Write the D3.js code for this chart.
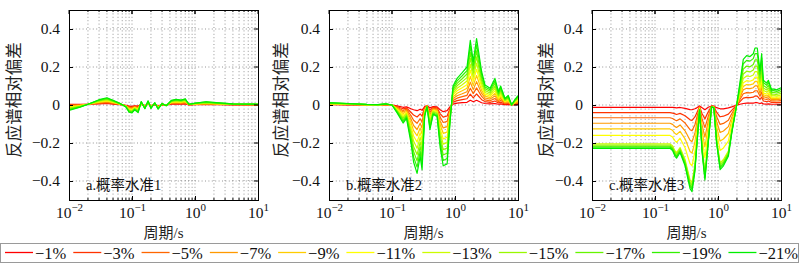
<!DOCTYPE html>
<html>
<head>
<meta charset="utf-8">
<script src="https://cdn.jsdelivr.net/npm/d3@7"></script>
<style>
  body { margin: 0; background: #fff; }
  svg { display: block; }
</style>
</head>
<body>
<div id="chart"></div>
<script>
// 凡例ラベル（超越確率）-------------------------------------------------------------
const levels = ['−1%', '−3%', '−5%', '−7%', '−9%', '−11%', '−13%', '−15%', '−17%', '−19%', '−21%'];
const yTicks = [-0.4, -0.2, 0, 0.2, 0.4];
const xMajor = [0.01, 0.1, 1, 10];

// a.概率水准1 ------------------------------------------------------------------------
const periodsA = [0.01, 0.015, 0.02, 0.03, 0.04, 0.05, 0.065, 0.08, 0.09, 0.1, 0.11, 0.125, 0.14, 0.16, 0.18,
  0.2, 0.23, 0.26, 0.3, 0.35, 0.42, 0.5, 0.6, 0.7, 0.8, 1.0, 1.5, 2.2, 4, 10];
const a1 = [.004,.004,.004,.006,.008,.005,.002,-.002,-.006,-.007,-.004,-.006,.003,-.003,.004,-.003,.002,-.004,.001,0,.005,.006,.005,.006,.001,.002,.003,.002,.001,.001];
const a3 = [.001,.002,.004,.008,.011,.007,.003,-.003,-.009,-.011,-.006,-.009,.005,-.005,.006,-.005,.003,-.006,.002,0,.007,.008,.007,.009,.001,.003,.004,.003,.002,.001];
const a5 = [-.002,.001,.004,.010,.014,.009,.003,-.004,-.012,-.014,-.008,-.013,.006,-.006,.008,-.006,.004,-.008,.002,-.001,.009,.011,.009,.011,.002,.004,.006,.004,.002,.002];
const a7 = [-.006,-.001,.004,.013,.017,.011,.004,-.004,-.016,-.018,-.010,-.016,.008,-.008,.009,-.008,.005,-.009,.003,-.001,.011,.013,.011,.014,.002,.004,.007,.005,.003,.002];
const a9 = [-.009,-.002,.004,.015,.020,.013,.004,-.005,-.019,-.021,-.012,-.020,.009,-.010,.011,-.009,.006,-.011,.004,-.002,.013,.016,.013,.017,.002,.005,.009,.006,.003,.002];
const a11 = [-.012,-.004,.004,.017,.023,.015,.005,-.006,-.022,-.025,-.015,-.023,.011,-.012,.013,-.011,.007,-.013,.005,-.002,.015,.018,.016,.020,.003,.006,.010,.007,.004,.003];
const a13 = [-.015,-.006,.004,.019,.026,.017,.006,-.007,-.025,-.028,-.017,-.026,.012,-.013,.015,-.012,.008,-.015,.005,-.002,.016,.020,.018,.022,.003,.007,.011,.008,.004,.003];
const a15 = [-.018,-.007,.004,.021,.029,.019,.006,-.008,-.028,-.032,-.019,-.030,.014,-.015,.017,-.014,.009,-.017,.006,-.003,.018,.023,.020,.025,.003,.008,.013,.009,.005,.003];
const a17 = [-.022,-.009,.004,.024,.032,.021,.007,-.008,-.032,-.035,-.021,-.033,.015,-.017,.018,-.015,.010,-.018,.007,-.003,.020,.025,.022,.028,.003,.008,.014,.010,.005,.003];
const a19 = [-.025,-.010,.004,.026,.035,.023,.007,-.009,-.035,-.039,-.023,-.037,.017,-.018,.020,-.017,.011,-.020,.007,-.004,.022,.028,.024,.030,.004,.009,.016,.011,.006,.004];
const a21 = [-.028,-.012,.004,.028,.038,.025,.008,-.010,-.038,-.042,-.025,-.040,.018,-.020,.022,-.018,.012,-.022,.008,-.004,.024,.030,.026,.033,.004,.010,.017,.012,.006,.004];

// b.概率水准2 ------------------------------------------------------------------------
const periodsB = [0.01, 0.02, 0.04, 0.06, 0.08, 0.1, 0.12, 0.15, 0.17, 0.2, 0.22, 0.25, 0.28, 0.3, 0.33, 0.36,
  0.4, 0.45, 0.52, 0.58, 0.65, 0.75, 0.83, 0.93, 1.08, 1.3, 1.55, 1.75, 1.95, 2.2, 2.65, 3.0, 3.6, 4.3, 4.9,
  5.3, 6.2, 7.0, 7.9, 9.0, 10];
const b1 = [.002,.001,0,0,.001,0,-.005,-.012,-.010,-.020,-.025,-.030,-.022,-.028,-.008,-.003,-.015,-.008,-.010,-.025,-.035,-.030,-.010,.005,.010,.012,.014,.025,.017,.025,.012,.008,.006,.008,.004,.006,.002,.003,0,.002,.003];
const b3 = [.003,.002,0,0,.002,0,-.009,-.020,-.016,-.038,-.053,-.063,-.047,-.059,-.013,-.004,-.027,-.012,-.015,-.045,-.064,-.058,-.019,.015,.023,.028,.033,.057,.038,.058,.028,.018,.014,.021,.011,.015,.005,.008,0,.005,.008];
const b5 = [.004,.002,.001,0,.002,0,-.012,-.029,-.022,-.056,-.080,-.096,-.072,-.090,-.018,-.004,-.038,-.016,-.020,-.064,-.092,-.086,-.028,.024,.036,.044,.051,.088,.060,.090,.045,.027,.022,.034,.017,.025,.009,.012,0,.008,.012];
const b7 = [.005,.003,.001,.001,.003,0,-.016,-.037,-.028,-.074,-.108,-.129,-.096,-.122,-.024,-.005,-.050,-.021,-.025,-.084,-.121,-.114,-.037,.034,.049,.059,.070,.120,.081,.123,.061,.037,.031,.048,.024,.034,.012,.017,0,.010,.017];
const b9 = [.006,.004,.001,.001,.003,0,-.019,-.045,-.034,-.092,-.135,-.162,-.121,-.153,-.029,-.006,-.061,-.025,-.030,-.103,-.149,-.142,-.046,.043,.062,.075,.088,.151,.102,.155,.077,.047,.039,.061,.030,.044,.015,.022,0,.013,.022];
const b11 = [.007,.005,.002,.001,.004,0,-.023,-.054,-.040,-.110,-.163,-.195,-.146,-.184,-.034,-.007,-.073,-.029,-.035,-.123,-.178,-.170,-.055,.053,.075,.091,.107,.183,.124,.188,.094,.057,.047,.074,.037,.053,.019,.027,0,.016,.027];
const b13 = [.008,.005,.002,.001,.004,0,-.026,-.062,-.046,-.128,-.190,-.228,-.171,-.215,-.039,-.007,-.084,-.033,-.040,-.142,-.206,-.198,-.064,.062,.088,.107,.126,.214,.145,.220,.110,.066,.055,.087,.044,.062,.022,.031,0,.019,.031];
const b15 = [.009,.006,.002,.001,.005,0,-.030,-.070,-.052,-.146,-.218,-.261,-.196,-.246,-.044,-.008,-.096,-.037,-.045,-.162,-.235,-.226,-.073,.072,.101,.123,.144,.246,.166,.253,.126,.076,.063,.100,.050,.072,.025,.036,0,.022,.036];
const b17 = [.010,.007,.002,.002,.005,0,-.033,-.078,-.058,-.164,-.245,-.294,-.220,-.278,-.050,-.009,-.107,-.042,-.050,-.181,-.263,-.254,-.082,.081,.114,.138,.163,.277,.187,.285,.142,.086,.072,.114,.057,.081,.028,.041,0,.024,.041];
const b19 = [.011,.007,.003,.002,.006,0,-.037,-.087,-.064,-.182,-.273,-.327,-.245,-.309,-.055,-.009,-.119,-.046,-.055,-.201,-.292,-.282,-.091,.091,.127,.154,.181,.309,.209,.318,.159,.095,.080,.127,.063,.091,.032,.045,0,.027,.045];
const b21 = [.012,.008,.003,.002,.006,0,-.040,-.095,-.070,-.200,-.300,-.360,-.270,-.340,-.060,-.010,-.130,-.050,-.060,-.220,-.320,-.310,-.100,.100,.140,.170,.200,.340,.230,.350,.175,.105,.088,.140,.070,.100,.035,.050,0,.030,.050];

// c.概率水准3 ------------------------------------------------------------------------
const periodsC = [0.01, 0.05, 0.1, 0.15, 0.173, 0.19, 0.208, 0.22, 0.25, 0.3, 0.36, 0.387, 0.43, 0.46, 0.51,
  0.56, 0.62, 0.7, 0.79, 0.86, 0.95, 1.08, 1.22, 1.46, 1.65, 1.98, 2.52, 2.85, 3.22, 3.63, 3.87, 4.2, 4.64,
  4.93, 5.24, 5.93, 6.3, 7.1, 7.4, 8.55, 10];
const c1 = [-.012,-.012,-.012,-.012,-.012,-.013,-.014,-.015,-.013,-.018,-.024,-.025,-.020,-.015,-.005,-.015,-.025,-.012,-.005,-.006,-.014,-.020,-.020,-.015,-.010,0,.008,.010,.010,.010,.012,.012,.008,.011,.006,.005,.006,.004,.004,.004,.004];
const c3 = [-.040,-.040,-.040,-.040,-.040,-.043,-.047,-.050,-.044,-.057,-.078,-.081,-.063,-.042,-.008,-.046,-.073,-.036,-.006,-.007,-.038,-.062,-.059,-.048,-.028,0,.036,.040,.039,.041,.047,.047,.029,.042,.021,.018,.021,.013,.014,.013,.014];
const c5 = [-.067,-.067,-.067,-.067,-.067,-.071,-.079,-.083,-.073,-.095,-.130,-.135,-.104,-.067,-.010,-.075,-.119,-.060,-.006,-.008,-.061,-.102,-.097,-.080,-.046,0,.059,.065,.064,.067,.075,.075,.046,.068,.033,.029,.033,.021,.022,.021,.023];
const c7 = [-.096,-.096,-.096,-.096,-.096,-.102,-.114,-.118,-.105,-.136,-.186,-.193,-.149,-.095,-.013,-.107,-.169,-.085,-.007,-.010,-.087,-.145,-.137,-.114,-.065,0,.080,.088,.086,.091,.101,.101,.061,.091,.044,.039,.044,.028,.029,.028,.031];
const c9 = [-.126,-.126,-.126,-.126,-.126,-.133,-.150,-.155,-.139,-.178,-.245,-.253,-.195,-.124,-.016,-.140,-.221,-.112,-.008,-.011,-.113,-.190,-.179,-.150,-.084,0,.098,.108,.106,.111,.124,.124,.075,.112,.054,.048,.054,.034,.036,.034,.038];
const c11 = [-.160,-.160,-.160,-.160,-.160,-.169,-.189,-.197,-.175,-.225,-.309,-.320,-.246,-.155,-.019,-.176,-.278,-.141,-.008,-.012,-.141,-.239,-.226,-.190,-.106,0,.117,.128,.125,.132,.147,.147,.089,.133,.064,.057,.064,.040,.042,.040,.044];
const c13 = [-.205,-.205,-.205,-.205,-.205,-.215,-.242,-.251,-.224,-.287,-.394,-.409,-.314,-.198,-.024,-.224,-.354,-.179,-.009,-.014,-.180,-.305,-.287,-.242,-.135,0,.140,.153,.150,.158,.176,.176,.106,.159,.077,.068,.077,.047,.050,.047,.053];
const c15 = [-.211,-.211,-.211,-.211,-.211,-.222,-.250,-.259,-.231,-.296,-.407,-.422,-.324,-.204,-.024,-.231,-.365,-.185,-.010,-.014,-.185,-.314,-.296,-.250,-.139,0,.163,.178,.174,.184,.205,.205,.123,.185,.089,.079,.089,.055,.058,.055,.062];
const c17 = [-.217,-.217,-.217,-.217,-.217,-.229,-.257,-.267,-.238,-.305,-.419,-.434,-.334,-.210,-.025,-.238,-.377,-.191,-.010,-.015,-.191,-.324,-.305,-.257,-.143,0,.189,.205,.201,.213,.237,.237,.142,.213,.103,.091,.103,.063,.067,.063,.071];
const c19 = [-.222,-.222,-.222,-.222,-.222,-.233,-.262,-.272,-.243,-.311,-.428,-.443,-.340,-.214,-.025,-.243,-.384,-.194,-.010,-.015,-.194,-.330,-.311,-.262,-.146,0,.217,.235,.231,.244,.271,.271,.163,.244,.118,.104,.118,.072,.077,.072,.081];
const c21 = [-.228,-.228,-.228,-.228,-.228,-.240,-.270,-.280,-.250,-.320,-.440,-.456,-.350,-.220,-.026,-.250,-.395,-.200,-.010,-.015,-.200,-.340,-.320,-.270,-.150,0,.240,.260,.255,.270,.300,.300,.180,.270,.130,.115,.130,.080,.085,.080,.090];

// パネル設定 ---------------------------------------------------------------------------
const panels = [
  {left: 69, ylabOff: 55, title: 'a.概率水准1', periods: periodsA, series: [a1, a3, a5, a7, a9, a11, a13, a15, a17, a19, a21]},
  {left: 329, ylabOff: 48, title: 'b.概率水准2', periods: periodsB, series: [b1, b3, b5, b7, b9, b11, b13, b15, b17, b19, b21]},
  {left: 592, ylabOff: 46, title: 'c.概率水准3', periods: periodsC, series: [c1, c3, c5, c7, c9, c11, c13, c15, c17, c19, c21]}
];

const width = 800, height = 264;
const pw = 189, ph = 190, plotTop = 10;
const serif = '"Liberation Serif", "Times New Roman", serif';
const cjk = '"Liberation Serif", "Noto Sans CJK SC", serif';
const color = d3.scaleLinear().domain([0, 5, 10]).range(['#ff0000', '#ffff00', '#00ee00']);
const minus = v => (v < 0 ? '−' : '') + Math.abs(v);

const svg = d3.select('#chart').append('svg')
  .attr('width', width)
  .attr('height', height);

panels.forEach((p, pi) => {
  const x = d3.scaleLog().domain([0.01, 10]).range([p.left, p.left + pw]);
  const y = d3.scaleLinear().domain([-0.5, 0.5]).range([plotTop + ph, plotTop]);
  const g = svg.append('g');

  // グリッド -------------------------------------------------------------------------
  const minor = x.ticks().filter(t => t > 0.0100001 && t < 9.99);
  g.append('g').selectAll('line').data(minor).enter().append('line')
    .attr('x1', d => x(d)).attr('x2', d => x(d))
    .attr('y1', plotTop).attr('y2', plotTop + ph)
    .attr('stroke', '#8a8a8a').attr('stroke-width', 0.9).attr('stroke-dasharray', '1 2.4');
  g.append('g').selectAll('line').data(yTicks).enter().append('line')
    .attr('x1', p.left).attr('x2', p.left + pw)
    .attr('y1', d => y(d)).attr('y2', d => y(d))
    .attr('stroke', '#8a8a8a').attr('stroke-width', 0.9).attr('stroke-dasharray', '1 2.4');

  // 曲線 ------------------------------------------------------------------------------
  svg.append('clipPath').attr('id', 'clip' + pi)
    .append('rect').attr('x', p.left).attr('y', plotTop).attr('width', pw).attr('height', ph);
  const line = d3.line().x(d => x(d[0])).y(d => y(d[1]));
  g.append('g').attr('clip-path', 'url(#clip' + pi + ')')
    .selectAll('path').data(p.series).enter().append('path')
    .attr('d', s => line(p.periods.map((t, i) => [t, s[i]])))
    .attr('fill', 'none')
    .attr('stroke', (s, k) => color(k))
    .attr('stroke-width', 1.2)
    .attr('stroke-linejoin', 'round');

  // 軸 --------------------------------------------------------------------------------
  const yAxis = g.append('g').attr('transform', 'translate(' + p.left + ',0)')
    .call(d3.axisLeft(y).tickValues(yTicks).tickSizeInner(-4).tickSizeOuter(0).tickPadding(9)
      .tickFormat(v => v === 0 ? '0' : minus(v.toFixed(1))));
  yAxis.select('.domain').remove();
  yAxis.selectAll('text').attr('font-family', serif).attr('font-size', 15.5).attr('fill', '#111');
  g.append('g').selectAll('line').data(yTicks).enter().append('line')
    .attr('x1', p.left + pw).attr('x2', p.left + pw - 4)
    .attr('y1', d => y(d)).attr('y2', d => y(d)).attr('stroke', '#000');

  const xAxis = g.append('g').attr('transform', 'translate(0,' + (plotTop + ph) + ')')
    .call(d3.axisBottom(x).tickValues(xMajor).tickSizeInner(-4).tickSizeOuter(0).tickPadding(11));
  xAxis.select('.domain').remove();
  xAxis.selectAll('.tick text').each(function (d) {
    const t = d3.select(this).text(null).attr('font-family', serif).attr('fill', '#111');
    t.append('tspan').attr('font-size', 15.5).text('10');
    t.append('tspan').attr('font-size', 11).attr('dy', -7).text(minus(Math.round(Math.log10(d))));
  });
  g.append('g').selectAll('line').data(minor).enter().append('line')
    .attr('x1', d => x(d)).attr('x2', d => x(d))
    .attr('y1', plotTop + ph).attr('y2', plotTop + ph - 2).attr('stroke', '#000');
  g.append('g').selectAll('line').data(minor.concat(xMajor)).enter().append('line')
    .attr('x1', d => x(d)).attr('x2', d => x(d))
    .attr('y1', plotTop).attr('y2', d => plotTop + (xMajor.includes(d) ? 4 : 2)).attr('stroke', '#000');

  g.append('rect')
    .attr('x', p.left + 0.5).attr('y', plotTop + 0.5)
    .attr('width', pw).attr('height', ph)
    .attr('fill', 'none').attr('stroke', '#000').attr('stroke-width', 1);

  // ラベル ------------------------------------------------------------------------------
  g.append('text')
    .attr('x', p.left + pw / 2).attr('y', 238)
    .attr('text-anchor', 'middle')
    .attr('font-family', cjk).attr('font-size', 15).attr('fill', '#222')
    .text('周期/s');
  g.append('text')
    .attr('transform', 'translate(' + (p.left - p.ylabOff) + ',100) rotate(-90)')
    .attr('text-anchor', 'middle').attr('dy', '0.35em')
    .attr('font-family', cjk).attr('font-size', 16.5).attr('fill', '#222')
    .text('反应谱相对偏差');
  g.append('text')
    .attr('x', p.left + 17).attr('y', 190)
    .attr('font-family', cjk).attr('font-size', 14.5).attr('fill', '#111')
    .text(p.title);
});

// 凡例 -----------------------------------------------------------------------------------
const leg = svg.append('g');
leg.append('rect')
  .attr('x', 0.5).attr('y', 243.5).attr('width', 798).attr('height', 19)
  .attr('fill', '#fff').attr('stroke', '#9a9a9a');
const items = leg.selectAll('g.item').data(levels).enter().append('g').attr('class', 'item');
items.append('line')
  .attr('x1', 0).attr('x2', 28).attr('y1', 252.5).attr('y2', 252.5)
  .attr('stroke', (d, k) => color(k)).attr('stroke-width', 1.3);
items.append('text')
  .attr('x', 30).attr('y', 258.5)
  .attr('font-family', serif).attr('font-size', 16.5).attr('fill', '#111')
  .text(d => d);
const widths = items.nodes().map(n => 30 + n.querySelector('text').getComputedTextLength());
const gap = (793 - d3.sum(widths)) / (levels.length - 1);
let cx = 5;
items.each(function (d, i) {
  d3.select(this).attr('transform', 'translate(' + cx + ',0)');
  cx += widths[i] + gap;
});
</script>
</body>
</html>
